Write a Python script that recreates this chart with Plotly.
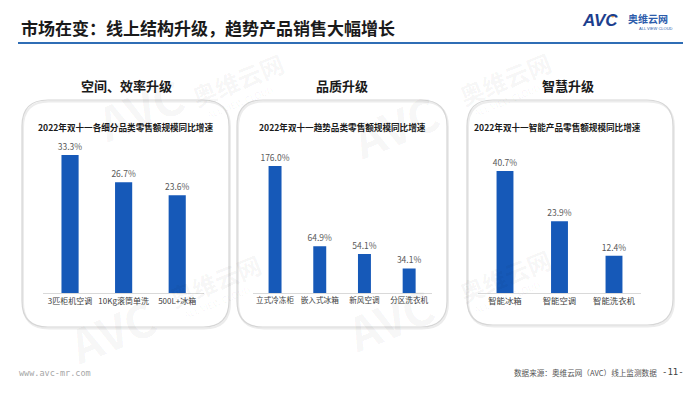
import plotly.graph_objects as go

W, H = 700, 394

# ---------------- data ----------------
cats1 = ["3匹柜机空调", "10Kg滚筒单洗", "500L+冰箱"]
vals1 = [33.3, 26.7, 23.6]
cats2 = ["立式冷冻柜", "嵌入式冰箱", "新风空调", "分区洗衣机"]
vals2 = [176.0, 64.9, 54.1, 34.1]
cats3 = ["智能冰箱", "智能空调", "智能洗衣机"]
vals3 = [40.7, 23.9, 12.4]
headings = ["空间、效率升级", "品质升级", "智慧升级"]
subtitles = ["2022年双十一各细分品类零售额规模同比增速",
             "2022年双十一趋势品类零售额规模同比增速",
             "2022年双十一智能产品零售额规模同比增速"]
main_title = "市场在变：线上结构升级，趋势产品销售大幅增长"
source_text = "数据来源：奥维云网（AVC）线上监测数据"
page_no = "-11-"
site = "www.avc-mr.com"


def px(x):
    return x / W


def py(y):
    return 1 - y / H


FONT = "Noto Sans CJK SC, Noto Sans, sans-serif"
BAR = "#1659B8"

fig = go.Figure()
series = [(cats1, vals1, 0.32, "x", "y"),
          (cats2, vals2, 0.29, "x2", "y2"),
          (cats3, vals3, 0.31, "x3", "y3")]
for cats, vals, w, xa, ya in series:
    fig.add_trace(go.Bar(
        x=cats, y=vals, width=w, xaxis=xa, yaxis=ya,
        marker=dict(color=BAR, line=dict(width=0)),
        text=[f"{v:.1f}%" for v in vals], textposition="outside",
        constraintext="none",
        textfont=dict(size=8.5, color="#595959", family=FONT),
        cliponaxis=False, showlegend=False, hoverinfo="skip"))

ytop, ybase = 150, 293
ydom = [py(ybase), py(ytop)]
hpx = ybase - ytop

xdoms = [[px(43.25), px(204)], [px(252.7), px(431.5)], [px(477.75), px(641.25)]]
scales = [138 / 33.3, 127 / 176.0, 122 / 40.7]
tfs = [8, 7.6, 8.4]

layout = dict(
    width=W, height=H, margin=dict(l=0, r=0, t=0, b=0),
    paper_bgcolor="white", plot_bgcolor="rgba(0,0,0,0)",
    font=dict(family=FONT),
)
for i in range(3):
    sfx = "" if i == 0 else str(i + 1)
    layout["xaxis" + sfx] = dict(
        domain=xdoms[i], anchor="y" + sfx, showgrid=False, zeroline=False,
        showline=True, linecolor="#d9d9d9", linewidth=1, ticks="",
        tickangle=0,
        tickfont=dict(size=tfs[i], color="#404040", family=FONT),
        fixedrange=True)
    layout["yaxis" + sfx] = dict(
        domain=ydom, anchor="x" + sfx, range=[0, hpx / scales[i]],
        visible=False, fixedrange=True)
fig.update_layout(**layout)


def rrect(x0, y0, x1, y1, r):
    def P(x, y):
        return f"{px(x):.5f},{py(y):.5f}"
    return (f"M {P(x0 + r, y0)} L {P(x1 - r, y0)} Q {P(x1, y0)} {P(x1, y0 + r)} "
            f"L {P(x1, y1 - r)} Q {P(x1, y1)} {P(x1 - r, y1)} "
            f"L {P(x0 + r, y1)} Q {P(x0, y1)} {P(x0, y1 - r)} "
            f"L {P(x0, y0 + r)} Q {P(x0, y0)} {P(x0 + r, y0)} Z")


shapes = []
panels = [(22, 100, 229, 327), (237, 100, 447, 327), (467, 100, 673, 325)]
for (x0, y0, x1, y1) in panels:
    shapes.append(dict(type="path", xref="paper", yref="paper",
                       path=rrect(x0 + 1, y0 + 1.5, x1 + 1, y1 + 1.5, 26),
                       line=dict(color="#ececec", width=2), layer="below"))
    shapes.append(dict(type="path", xref="paper", yref="paper",
                       path=rrect(x0, y0, x1, y1, 26),
                       line=dict(color="#d6d6d6", width=1.2), layer="below"))
# header rule
shapes.append(dict(type="line", xref="paper", yref="paper",
                   x0=px(18), x1=px(683), y0=py(43), y1=py(43),
                   line=dict(color="#2f6db5", width=2)))
# logo dot
shapes.append(dict(type="circle", xref="paper", yref="paper",
                   x0=px(611), x1=px(614.5), y0=py(17.5), y1=py(14),
                   fillcolor="#f2a134", line=dict(width=0)))

ann = []


def A(text, x, y, size, color="#333", xanchor="center", angle=0, fam=FONT):
    ann.append(dict(text=text, x=px(x), y=py(y), xref="paper", yref="paper",
                    xanchor=xanchor, yanchor="middle", showarrow=False,
                    textangle=angle,
                    font=dict(size=size, color=color, family=fam)))


# watermarks
WM = "rgba(0,0,0,0.045)"
for (ax, ay, bx, by) in [(140, 108, 238, 80), (395, 125, 505, 78),
                         (112, 330, 215, 280), (390, 318, 505, 275)]:
    A("<b>AVC</b>", ax, ay, 46, WM, angle=-22)
    A("<b>奥维云网</b>", bx, by, 24, WM, angle=-22)
    A("ALL VIEW CLOUD", bx + 2, by + 22, 9, WM, angle=-22)

A(f"<b>{main_title}</b>", 19, 28, 17, "#1a1a1a", xanchor="left")
A("<b><i>AVC</i></b>", 580, 21, 17, "#1d3f8e", xanchor="left",
  fam="Liberation Sans, Arial, sans-serif")
A("<b>奥维云网</b>", 626, 19, 10, "#2d5cab", xanchor="left")
A("ALL VIEW CLOUD", 637, 28.5, 4, "#2d5cab", xanchor="left",
  fam="Liberation Sans, Arial, sans-serif")

centers = [126, 342, 568]
subc = [125, 342, 557]
for i in range(3):
    A(f"<b>{headings[i]}</b>", centers[i], 85, 13, "#1a1a1a")
    A(f"<b>{subtitles[i]}</b>", subc[i], 127, 8.6, "#1a1a1a")

A(site, 17, 373, 8.5, "#a6a6a6", xanchor="left",
  fam="DejaVu Sans Mono, monospace")
A(source_text, 512, 372, 7.6, "#555555", xanchor="left")
A(page_no, 660, 372, 9, "#404040", xanchor="left",
  fam="DejaVu Sans Mono, monospace")

fig.update_layout(shapes=shapes, annotations=ann)
fig.write_html("out.html",
               config={"displayModeBar": False, "staticPlot": True},
               post_script="document.body.style.margin='0';"
                           "document.body.style.overflow='hidden';")
